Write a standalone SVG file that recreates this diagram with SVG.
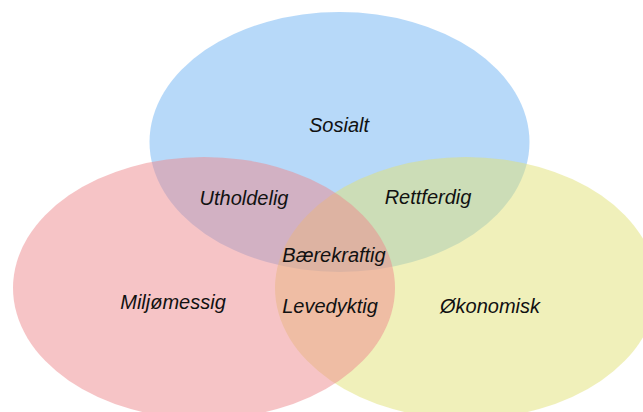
<svg xmlns="http://www.w3.org/2000/svg" width="643" height="412" viewBox="0 0 643 412">
<style>
.c{fill-opacity:0.5;stroke:none}
.t{font-family:"Liberation Sans",Arial,sans-serif;font-style:italic;font-size:20px;fill:#111;text-anchor:middle}
</style>
<rect width="643" height="412" fill="#fff"/>
<g id="sosialt"><ellipse class="c" cx="339.5" cy="142" rx="190" ry="130" fill="#6fb3f3"/></g>
<g id="okonomisk"><ellipse class="c" cx="466" cy="288" rx="191" ry="131" fill="#e1e175"/></g>
<g id="miljomessig"><ellipse class="c" cx="204" cy="288" rx="191" ry="131" fill="#ed898d"/></g>
<g id="labels">
<text class="t" x="339" y="132">Sosialt</text>
<text class="t" x="244" y="205">Utholdelig</text>
<text class="t" x="428" y="204">Rettferdig</text>
<text class="t" x="334" y="262">Bærekraftig</text>
<text class="t" x="330" y="313">Levedyktig</text>
<text class="t" x="173" y="309">Miljømessig</text>
<text class="t" x="490" y="313">Økonomisk</text>
</g>
</svg>
